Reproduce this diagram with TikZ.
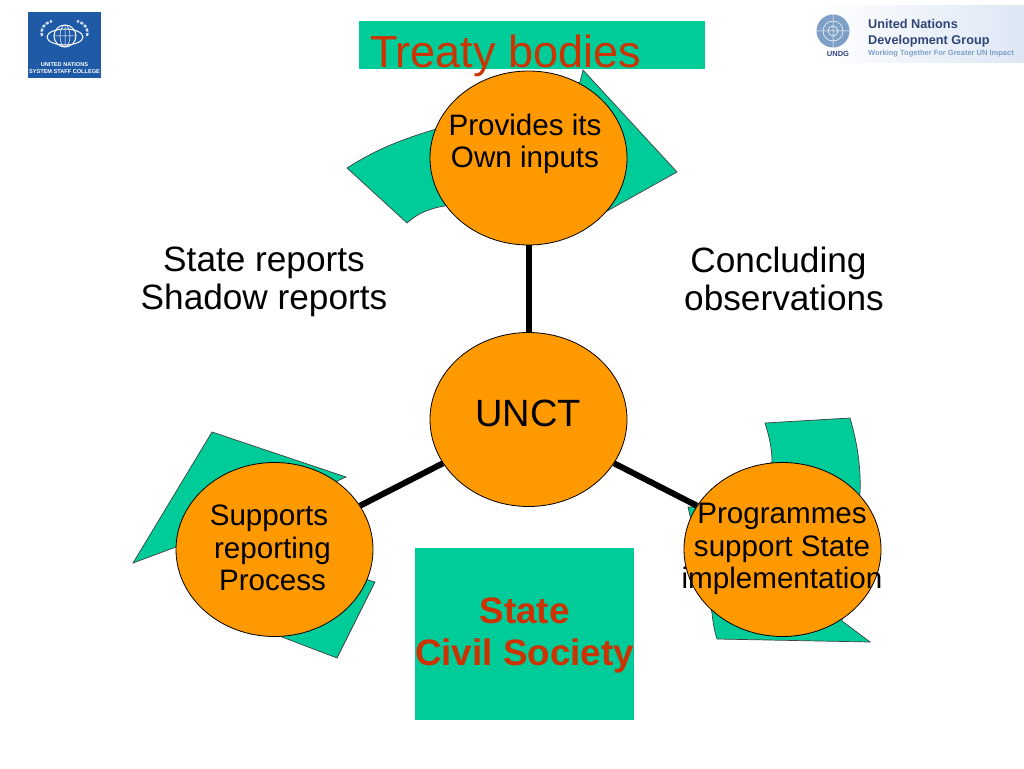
\documentclass[tikz,border=0pt]{standalone}
\usepackage{fontspec}
\setmainfont{Liberation Sans}
\usepackage{xcolor}
\usetikzlibrary{calc,shapes.geometric}
\definecolor{teal}{HTML}{00CC99}
\definecolor{orange}{HTML}{FF9900}
\definecolor{rust}{HTML}{CC3300}
\definecolor{navy}{HTML}{1F5AA6}
\definecolor{undg}{HTML}{2F4478}
\definecolor{undgsoft}{HTML}{7FA0C6}
\definecolor{undgbg}{HTML}{DDE7F5}
\tikzset{
  hub/.style={ellipse, draw=black, fill=orange, line width=0.8pt, minimum width=197pt, minimum height=174pt, inner sep=0pt},
  petal/.style={draw=black!75, fill=teal, line width=0.7pt, line join=miter},
  spoke/.style={draw=black, line width=6pt},
  panel/.style={fill=teal, inner sep=0pt},
  lab/.style={text=black, align=center, font=\fontsize{35.2}{38}\selectfont},
  labhub/.style={text=black, align=center, font=\fontsize{29.6}{32.5}\selectfont},
  labred/.style={text=rust, align=center, font=\fontsize{36.8}{42}\selectfont\bfseries},
  logotext/.style={text=white, align=center, inner sep=0pt, font=\fontsize{5.6}{7.4}\selectfont\bfseries}
}
\begin{document}
\begin{tikzpicture}[x=1pt,y=-1pt]
  \useasboundingbox (0,0) rectangle (1024,768);
  % green shapes behind the hubs
  \draw[petal] (347,168) .. controls (375,150) and (400,140) .. (433,130) -- (580,82) -- (583,70)
    -- (677,172) -- (600,215) -- (450,205) .. controls (430,208) and (418,213) .. (407,223) -- cycle;
  \draw[petal] (212,432) -- (346,477) -- (337,481) -- (368,580) -- (375,582) -- (337,658)
    -- (282,637) -- (176,547) -- (133,563) -- cycle;
  \draw[petal] (765,423) -- (850,418) .. controls (858,445) and (861,470) .. (860,493)
    -- (842,621) -- (870,642) -- (717,639) .. controls (714,630) and (713,622) .. (712,613)
    -- (688,507) -- (700,507) -- (772,462) .. controls (772,448) and (769,436) .. (765,423) -- cycle;
  % panels
  \node[panel, minimum width=346pt, minimum height=48pt] (titlebox) at (532,45) {};
  \node[panel, minimum width=219pt, minimum height=172pt] (statebox) at (524.5,634) {};
  % hubs and spokes
  \node[hub] (top) at (528.5,158) {};
  \node[hub] (unct) at (528.5,419.5) {};
  \node[hub] (left) at (274.5,549.5) {};
  \node[hub] (right) at (782.5,549.5) {};
  \draw[spoke] (top) -- (unct);
  \draw[spoke] (unct) -- (left);
  \draw[spoke] (unct) -- (right);
  % texts
  \node[text=rust, font=\fontsize{45}{50}\selectfont] (title) at (505.5,56) {Treaty bodies};
  \node[labhub] (inputs) at (525,144) {Provides its\\Own inputs};
  \node[lab, font=\fontsize{38}{42}\selectfont] (unctlab) at (528,413) {UNCT};
  \node[labhub] (supports) at (272.5,548) {\mbox{Supports\hspace{7pt}}\\reporting\\Process};
  \node[labhub] (programmes) at (782,549) {Programmes\\support State\\implementation};
  \node[lab] (reports) at (264,282) {State reports\\Shadow reports};
  \node[lab] (observations) at (784,279) {\mbox{Concluding\hspace{11pt}}\\observations};
  \node[labred] (state) at (524.5,635) {State\\Civil Society};
  % left logo
  \node[fill=navy, minimum width=73pt, minimum height=66pt, inner sep=0pt] (collegelogo) at (64.5,45) {};
  \node[logotext] (college) at (64.5,68) {UNITED NATIONS\\SYSTEM STAFF COLLEGE};
  \draw[white, line width=1pt] (65,36) circle (11);
  \draw[white, line width=1pt] (65,37) ellipse (18 and 8);
  \draw[white, line width=0.5pt] (54,36) -- (76,36) (65,25) -- (65,47) (65,36) ellipse (5 and 11);
  \draw[white!80!navy, line width=2.4pt, dash pattern=on 3pt off 1.5pt] (42,36) .. controls (40,28) and (45,23) .. (52,21);
  \draw[white!80!navy, line width=2.4pt, dash pattern=on 3pt off 1.5pt] (87,36) .. controls (89,28) and (84,23) .. (77,21);
  % right logo
  \node[left color=white, right color=undgbg, minimum width=209pt, minimum height=56pt, inner sep=0pt] (undglogo) at (919.5,34) {};
  \node[circle, fill=undgsoft, minimum size=33pt, inner sep=0pt] (emblem) at (833,31) {};
  \draw[white, line width=0.5pt] (833,31) circle (10) (833,31) circle (5) (817,31) -- (849,31) (833,15) -- (833,47);
  \node[text=undg, font=\fontsize{7.5}{9}\selectfont\bfseries, inner sep=0pt] (undgname) at (838,54) {UNDG};
  \node[text=undg, anchor=west, inner sep=0pt, font=\fontsize{12.7}{15.5}\selectfont\bfseries, align=left] (undgtitle) at (868,33) {United Nations\\Development Group};
  \node[text=undgsoft, anchor=west, inner sep=0pt, font=\fontsize{7.5}{9}\selectfont\bfseries] (undgmotto) at (868,54) {Working Together For Greater UN Impact};
\end{tikzpicture}
\end{document}
